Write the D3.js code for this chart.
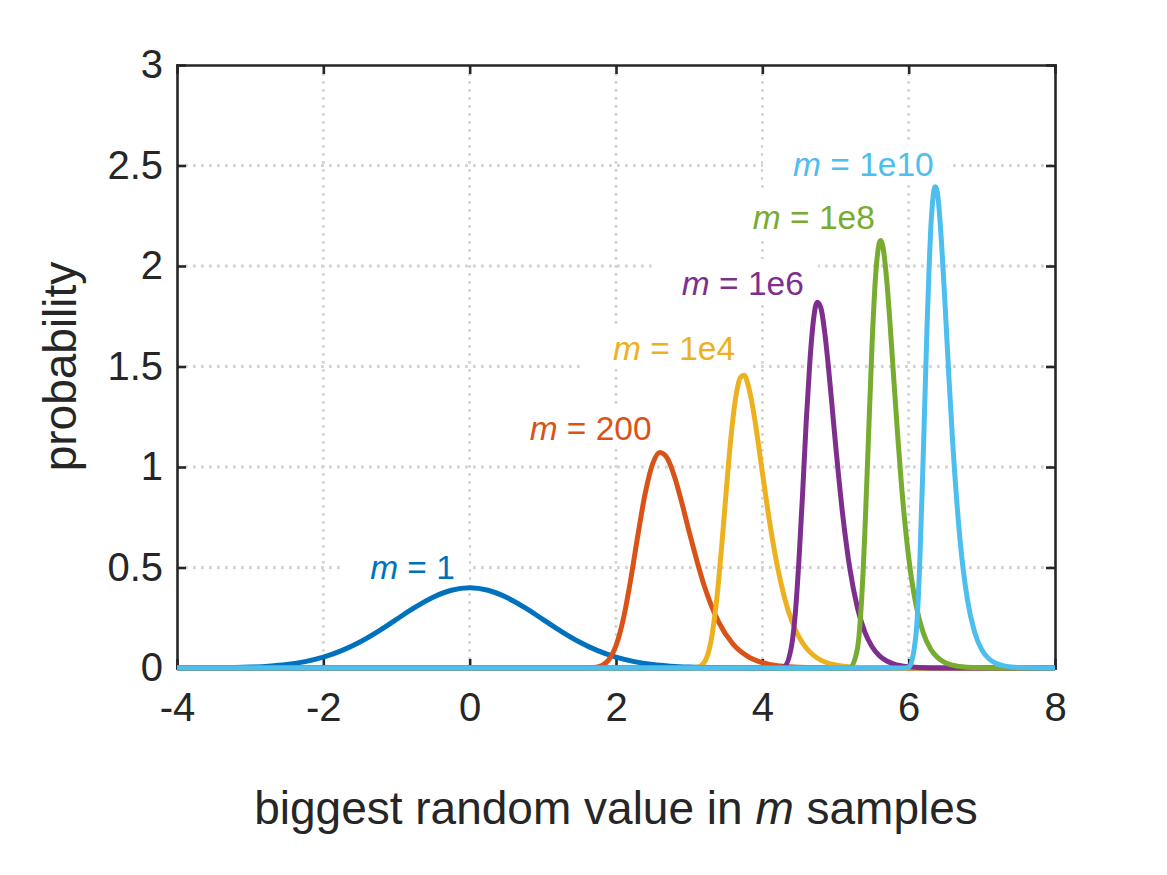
<!DOCTYPE html>
<html><head><meta charset="utf-8">
<script src="https://cdn.jsdelivr.net/npm/d3@7"></script>
<style>
body{margin:0;background:#fff}
svg{display:block}
text{font-family:"Liberation Sans",Arial,Helvetica,sans-serif;fill:#262626}
</style>
</head><body>
<svg id="chart" width="1167" height="875"></svg>
<script>
// ---------- data ----------
const seriesNames = ["1", "200", "1e4", "1e6", "1e8", "1e10"];
const seriesColors = ["#0072BD", "#D95319", "#EDB120", "#7E2F8E", "#77AC30", "#4DBEEE"];

const xM1 = [-4, -3.5, -3, -2.75, -2.5, -2.25, -2, -1.75, -1.5, -1.25, -1, -0.75, -0.5, -0.25, 0,
             0.25, 0.5, 0.75, 1, 1.25, 1.5, 1.75, 2, 2.25, 2.5, 2.75, 3, 3.5, 4, 5, 6, 7, 8];
const yM1 = [0.0001, 0.0009, 0.0044, 0.0091, 0.0175, 0.0317, 0.0540, 0.0863, 0.1295, 0.1826, 0.2420, 0.3011, 0.3521, 0.3867, 0.3989,
             0.3867, 0.3521, 0.3011, 0.2420, 0.1826, 0.1295, 0.0863, 0.0540, 0.0317, 0.0175, 0.0091, 0.0044, 0.0009, 0.0001, 0, 0, 0, 0];

const xM200 = [-4, 1.25, 1.5, 1.7, 1.8, 1.9, 2.0, 2.1, 2.2, 2.3, 2.4, 2.5, 2.6, 2.7, 2.8, 2.9, 3.0, 3.2, 3.4, 3.6, 3.8, 4.0, 4.25, 4.5, 5.0, 5.5, 8];
const yM200 = [0, 0, 0.00003, 0.0022, 0.0109, 0.0398, 0.1108, 0.2435, 0.4375, 0.6629, 0.8702, 1.0149, 1.0722, 1.0443, 0.9514, 0.8210, 0.6775, 0.4159, 0.2304, 0.1186, 0.0576, 0.0266, 0.0096, 0.0032, 0.0003, 0, 0];

const xM1e4 = [-4, 3.0, 3.1, 3.2, 3.3, 3.4, 3.45, 3.5, 3.55, 3.6, 3.65, 3.7, 3.75, 3.8, 3.85, 3.9, 3.95, 4.0, 4.1, 4.2, 4.3, 4.4, 4.5, 4.6, 4.7, 4.8, 5.0, 5.2, 5.5, 6.0, 8];
const yM1e4 = [0, 0, 0.0021, 0.0247, 0.137, 0.424, 0.6295, 0.8525, 1.0664, 1.2466, 1.3761, 1.4454, 1.4564, 1.4158, 1.3353, 1.2283, 1.1047, 0.9748, 0.7260, 0.5157, 0.3539, 0.2363, 0.1545, 0.0993, 0.0629, 0.0393, 0.0149, 0.0054, 0.0011, 0.0001, 0];

const xM1e6 = [-4, 4.2, 4.3, 4.4, 4.45, 4.5, 4.55, 4.6, 4.65, 4.7, 4.75, 4.8, 4.85, 4.9, 4.95, 5.0, 5.1, 5.2, 5.3, 5.4, 5.5, 5.6, 5.7, 5.8, 6.0, 6.2, 6.5, 7.0, 8];
const yM1e6 = [0, 0, 0.0075, 0.1112, 0.2687, 0.5345, 0.8648, 1.2269, 1.5254, 1.7342, 1.8202, 1.7917, 1.6777, 1.5104, 1.3154, 1.1164, 0.7571, 0.4853, 0.2993, 0.1796, 0.1057, 0.0612, 0.0349, 0.0197, 0.0061, 0.0018, 0.0003, 0, 0];

const xM1e8 = [-4, 5.1, 5.2, 5.3, 5.35, 5.4, 5.45, 5.5, 5.55, 5.58, 5.6, 5.62, 5.65, 5.7, 5.75, 5.8, 5.85, 5.9, 6.0, 6.1, 6.2, 6.3, 6.4, 6.5, 6.6, 6.8, 7.0, 7.3, 8];
const yM1e8 = [0, 0, 0.0025, 0.0970, 0.2978, 0.6633, 1.1396, 1.6126, 1.9600, 2.0755, 2.1162, 2.1263, 2.0918, 1.9299, 1.6893, 1.4184, 1.1561, 0.9180, 0.5505, 0.3148, 0.1745, 0.0947, 0.0506, 0.0266, 0.0139, 0.0036, 0.0009, 0.0001, 0];

const xM1e10 = [-4, 5.9, 6.0, 6.1, 6.15, 6.2, 6.25, 6.28, 6.3, 6.32, 6.36, 6.38, 6.4, 6.45, 6.5, 6.55, 6.6, 6.7, 6.8, 6.9, 7.0, 7.1, 7.2, 7.3, 7.4, 7.6, 8];
const yM1e10 = [0, 0, 0.0032, 0.1653, 0.5061, 1.0664, 1.6861, 2.0012, 2.1707, 2.2871, 2.3944, 2.3852, 2.3435, 2.1103, 1.7902, 1.4458, 1.1325, 0.6451, 0.3462, 0.1794, 0.0902, 0.0446, 0.0218, 0.0105, 0.0050, 0.0011, 0.0001];

// annotation anchors (data units): left edge x, baseline y
const labelX = [-1.36, 0.82, 1.96, 2.90, 3.87, 4.42];
const labelY = [0.443, 1.134, 1.532, 1.856, 2.184, 2.448];

const xTicks = [-4, -2, 0, 2, 4, 6, 8];
const yTicks = [0, 0.5, 1, 1.5, 2, 2.5, 3];
const yTickLabels = ["0", "0.5", "1", "1.5", "2", "2.5", "3"];
const xTickLabels = ["-4", "-2", "0", "2", "4", "6", "8"];

// ---------- chart ----------
const xs = [xM1, xM200, xM1e4, xM1e6, xM1e8, xM1e10];
const ys = [yM1, yM200, yM1e4, yM1e6, yM1e8, yM1e10];

const svg = d3.select("#chart");
const L = 177, R = 1055, T = 65, B = 668;
const x = d3.scaleLinear().domain([-4, 8]).range([L, R]);
const y = d3.scaleLinear().domain([0, 3]).range([B, T]);
const axisColor = "#262626";

// grid
const grid = svg.append("g");
grid.selectAll("line.gx").data(xTicks.slice(1, -1)).join("line")
  .attr("x1", d => x(d)).attr("x2", d => x(d)).attr("y1", T).attr("y2", B)
  .attr("stroke", "#d4d4d4").attr("stroke-width", 2.8).attr("stroke-dasharray", "2.8,5.2");
grid.selectAll("line.gy").data(yTicks.slice(1, -1)).join("line")
  .attr("y1", d => y(d)).attr("y2", d => y(d)).attr("x1", L).attr("x2", R)
  .attr("stroke", "#d4d4d4").attr("stroke-width", 2.8).attr("stroke-dasharray", "2.8,5.2");

// axes
function styleAxis(g) {
  g.selectAll(".domain").attr("stroke", axisColor).attr("stroke-width", 2.6);
  g.selectAll(".tick line").attr("stroke", axisColor).attr("stroke-width", 2.6);
  g.selectAll(".tick text").attr("fill", axisColor)
    .style("font-family", '"Liberation Sans", Arial, sans-serif').style("font-size", "40px");
}
const xFmt = d => xTickLabels[xTicks.indexOf(d)];
const yFmt = d => yTickLabels[yTicks.indexOf(d)];
svg.append("g").attr("transform", `translate(0,${B})`)
  .call(d3.axisBottom(x).tickValues(xTicks).tickFormat(xFmt).tickSize(-9).tickSizeOuter(0).tickPadding(25))
  .call(styleAxis);
svg.append("g").attr("transform", `translate(0,${T})`)
  .call(d3.axisTop(x).tickValues(xTicks).tickFormat("").tickSize(-9).tickSizeOuter(0))
  .call(styleAxis);
svg.append("g").attr("transform", `translate(${L},0)`)
  .call(d3.axisLeft(y).tickValues(yTicks).tickFormat(yFmt).tickSize(-9).tickSizeOuter(0).tickPadding(14))
  .call(styleAxis);
svg.append("g").attr("transform", `translate(${R},0)`)
  .call(d3.axisRight(y).tickValues(yTicks).tickFormat("").tickSize(-9).tickSizeOuter(0))
  .call(styleAxis);
svg.selectAll(".domain").attr("stroke-linecap", "square");

// annotations with white background boxes
const ann = svg.append("g");
seriesNames.forEach((name, i) => {
  const g = ann.append("g");
  const t = g.append("text").attr("x", x(labelX[i])).attr("y", y(labelY[i]))
    .style("font-size", "33.5px").style("fill", seriesColors[i]);
  t.append("tspan").style("font-style", "italic").text("m");
  t.append("tspan").text(" = " + name);
  const bb = t.node().getBBox();
  g.insert("rect", "text").attr("x", bb.x - 30).attr("y", bb.y - 6)
    .attr("width", bb.width + 44).attr("height", bb.height + 8).attr("fill", "#fff");
});

// curves
const line = d3.line().x(d => x(d[0])).y(d => y(d[1])).curve(d3.curveMonotoneX);
seriesNames.forEach((name, i) => {
  const pts = xs[i].map((v, j) => [v, ys[i][j]]);
  svg.append("path").datum(pts).attr("d", line)
    .attr("fill", "none").attr("stroke", seriesColors[i]).attr("stroke-width", 5)
    .attr("stroke-linejoin", "round").attr("stroke-linecap", "butt");
});

// axis labels
const xl = svg.append("text").attr("x", (L + R) / 2).attr("y", 824).attr("text-anchor", "middle").style("font-size", "46px");
xl.append("tspan").text("biggest random value in ");
xl.append("tspan").style("font-style", "italic").text("m");
xl.append("tspan").text(" samples");

svg.append("text").attr("transform", `translate(76,${(T + B) / 2}) rotate(-90)`)
  .attr("text-anchor", "middle").style("font-size", "46px").text("probability");
</script>
</body></html>
